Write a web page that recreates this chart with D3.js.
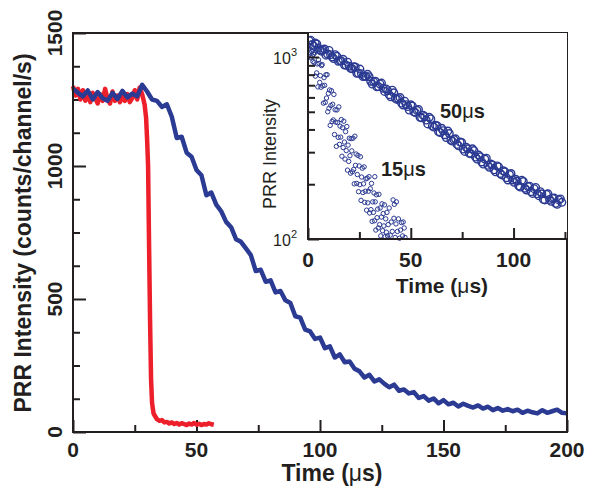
<!DOCTYPE html>
<html>
<head>
<meta charset="utf-8">
<script src="https://cdn.jsdelivr.net/npm/d3@7"></script>
<style>
  body { margin: 0; background: #fff; }
  svg { display: block; font-family: "Liberation Sans", Arial, sans-serif; }
</style>
</head>
<body>
<svg id="chart" width="592" height="489"></svg>
<script>
// main panel: time (us) and counts, blue = slow decay, red = fast decay
var blueT = d3.range(0, 201, 2);
var blueV = [1290,1275,1262,1284,1250,1278,1255,1245,1275,1252,1282,1258,1272,1262,1305,1280,1250,1245,1222,1232,
  1185,1105,1110,1050,1035,985,965,890,900,855,830,790,770,725,715,690,665,605,610,565,
  570,525,530,495,485,435,430,385,378,350,355,315,322,280,292,262,265,238,228,205,
  215,190,198,182,168,178,155,160,145,150,128,135,118,126,108,120,104,110,96,106,
  98,92,100,88,95,82,90,80,86,78,84,72,80,74,70,82,72,78,84,72,70];

var redT = [0,1,2,3,4,5,6,7,8,9,10,11,12,13,14,15,16,17,18,19,20,21,22,23,24,25,26,27,28,29,
  29.6,30,30.4,30.8,31.2,31.6,32,32.6,33.2,34,35,36,37,38,39,40,41,42,43,44,45,46,47,48,49,50,51,52,53,54,55,56,57];
var redV = [1300,1265,1290,1250,1285,1245,1270,1240,1275,1255,1235,1270,1245,1290,1250,1235,1280,1245,1265,1240,
  1260,1245,1270,1240,1255,1285,1250,1295,1270,1230,
  1180,1100,1000,700,420,200,110,70,60,48,42,45,36,38,32,36,30,34,28,33,30,26,32,28,34,27,31,26,30,28,33,29,27];

// inset: log intensity, 50 us decay (two interleaved sweeps) and 15 us decay
var slowT = [0.5,2,3.5,5,6.5,8,9.5,11,12.5,14,15.5,17,18.5,20,21.5,23,24.5,26,27.5,29,30.5,32,33.5,35,36.5,38,39.5,41,42.5,44,
  45.5,47,48.5,50,51.5,53,54.5,56,57.5,59,60.5,62,63.5,65,66.5,68,69.5,71,72.5,74,75.5,77,78.5,80,81.5,83,84.5,86,87.5,89,
  90.5,92,93.5,95,96.5,98,99.5,101,102.5,104,105.5,107,108.5,110,111.5,113,114.5,116,117.5,119,120.5,122,123.5];
var slowV = [1230,1171,1193,1120,1077,1107,1039,1030,980,1010,955,972,902,890,862,881,815,810,784,803,735,730,686,711,673,668,621,657,593,590,
  558,572,534,546,500,510,466,479,450,466,417,422,389,406,374,392,349,352,331,341,312,319,296,313,282,289,265,275,254,258,
  240,252,229,237,217,226,211,213,196,210,190,194,182,189,177,182,165,176,165,167,157,164,159];
var slowT2 = [1.25,2.75,4.25,5.75,7.25,8.75,10.25,11.75,13.25,14.75,16.25,17.75,19.25,20.75,22.25,23.75,25.25,26.75,28.25,29.75,
  31.25,32.75,34.25,35.75,37.25,38.75,40.25,41.75,43.25,44.75,46.25,47.75,49.25,50.75,52.25,53.75,55.25,56.75,58.25,59.75,
  61.25,62.75,64.25,65.75,67.25,68.75,70.25,71.75,73.25,74.75,76.25,77.75,79.25,80.75,82.25,83.75,85.25,86.75,88.25,89.75,
  91.25,92.75,94.25,95.75,97.25,98.75,100.25,101.75,103.25,104.75,106.25,107.75,109.25,110.75,112.25,113.75,115.25,116.75,118.25,119.75,
  121.25,122.75];
var slowV2 = [1237,1147,1179,1093,1092,1024,1087,1000,1030,948,950,904,937,867,884,813,858,781,782,780,
  710,736,688,719,647,653,605,636,585,599,545,547,511,538,495,515,463,471,429,457,
  412,419,385,394,361,380,345,355,325,339,303,313,294,306,275,283,258,278,248,255,
  234,249,225,234,211,229,205,208,193,207,186,195,178,192,173,177,164,177,161,168,
  155,166];

var fastT = [0.3,0.6,0.9,1.2,1.5,1.8,2.1,2.4,2.7,3.0,3.3,3.6,3.9,4.2,4.5,4.8,5.1,5.4,5.7,6.0,
  6.3,6.6,6.9,7.2,7.5,7.8,8.1,8.4,8.7,9.0,9.3,9.6,9.9,10.2,10.5,10.8,11.1,11.4,11.7,12.0,
  12.3,12.6,12.9,13.2,13.5,13.8,14.1,14.4,14.7,15.0,15.3,15.6,15.9,16.2,16.5,16.8,17.1,17.4,17.7,18.0,
  18.3,18.6,18.9,19.2,19.5,19.8,20.1,20.4,20.7,21.0,21.3,21.6,21.9,22.2,22.5,22.8,23.1,23.4,23.7,24.0,
  24.3,24.6,24.9,25.2,25.5,25.8,26.1,26.4,26.7,27.0,27.3,27.6,27.9,28.2,28.5,28.8,29.1,29.4,29.7,30.0,
  30.3,30.6,30.9,31.2,31.5,31.8,32.1,32.4,32.5,32.7,33.0,33.3,33.6,33.9,34.2,34.5,34.8,35.1,35.4,35.7,
  36.0,36.3,36.6,36.9,37.2,37.5,37.8,38.1,38.4,38.7,39.0,39.5,40.0,40.5,41.0,41.4,41.8,42.0,42.4,42.8,
  43.0,43.5,44.0,44.5,45.0,45.5,46.0,46.3,46.8,47.2];
var fastV = [1164,1067,1147,1051,989,1074,1014,946,1037,931,1055,785,1087,818,916,685,966,922,725,790,
  682,897,909,694,558,770,699,563,799,595,800,500,631,523,659,421,541,653,442,550,
  451,623,375,513,439,323,512,436,362,532,331,417,363,453,285,409,318,444,341,275,
  389,306,415,239,328,267,358,287,230,356,305,234,358,241,201,367,254,293,202,226,
  288,182,252,199,283,163,219,245,180,201,249,159,183,214,144,216,158,183,220,139,
  189,145,202,125,160,140,179,126,220,160,112,175,131,146,115,176,120,148,104,132,
  156,111,138,118,154,103,129,109,140,104,120,148,105,124,110,164,130,155,102,121,
  160,110,129,101,112,123,104,124,115,102];

var xTicksMain = [0, 50, 100, 150, 200], xMinorMain = [25, 75, 125, 175];
var yTicksMain = [0, 500, 1000, 1500], yMinorMain = [125, 250, 375, 625, 750, 875, 1125, 1250, 1375];
var xTicksIn = [0, 50, 100], xMinorIn = [25, 75, 125];
var yTicksIn = [100, 1000], yMinorIn = [200, 300, 400, 500, 600, 700, 800, 900];

var ink = "#231f20", blue = "#2b3a92", red = "#ec1f2b";
var svg = d3.select("#chart");

var x = d3.scaleLinear().domain([0, 200]).range([73, 567]);
var y = d3.scaleLinear().domain([0, 1500]).range([432, 33]);

function ticks(g, axis) {
  g.call(axis);
  g.select(".domain").remove();
  g.selectAll(".tick line").attr("stroke", ink).attr("stroke-width", 2);
  g.selectAll(".tick text").remove();
}

// main ticks (inward)
svg.append("g").attr("transform", "translate(0,432)")
  .call(ticks, d3.axisBottom(x).tickValues(xTicksMain).tickSize(-12));
svg.append("g").attr("transform", "translate(0,432)")
  .call(ticks, d3.axisBottom(x).tickValues(xMinorMain).tickSize(-7));
svg.append("g").attr("transform", "translate(73,0)")
  .call(ticks, d3.axisLeft(y).tickValues(yTicksMain).tickSize(-13));
svg.append("g").attr("transform", "translate(73,0)")
  .call(ticks, d3.axisLeft(y).tickValues(yMinorMain).tickSize(-7));

// main lines
var line = d3.line().x(function(d) { return x(d[0]); }).y(function(d) { return y(d[1]); });
svg.append("path")
  .datum(redT.map(function(t, i) { return [t, redV[i]]; }))
  .attr("d", line).attr("fill", "none").attr("stroke", red)
  .attr("stroke-width", 4.5).attr("stroke-linejoin", "round");
svg.append("path")
  .datum(blueT.map(function(t, i) { return [t, blueV[i]]; }))
  .attr("d", line).attr("fill", "none").attr("stroke", blue)
  .attr("stroke-width", 4.5).attr("stroke-linejoin", "round");

svg.append("rect").attr("x", 73).attr("y", 33).attr("width", 494).attr("height", 399)
  .attr("fill", "none").attr("stroke", ink).attr("stroke-width", 2);

// main tick labels
svg.selectAll("text.xl").data(xTicksMain).enter().append("text")
  .attr("x", function(d) { return x(d); }).attr("y", 457)
  .attr("text-anchor", "middle").attr("font-size", 21).attr("font-weight", "bold")
  .attr("fill", ink).text(function(d) { return d; });
svg.selectAll("text.yl").data(yTicksMain).enter().append("text")
  .attr("transform", function(d) { return "translate(62," + y(d) + ") rotate(-90)"; })
  .attr("text-anchor", "middle").attr("font-size", 21).attr("font-weight", "bold")
  .attr("fill", ink).text(function(d) { return d; });

var xt = svg.append("text").attr("x", 332).attr("y", 481).attr("text-anchor", "middle")
  .attr("font-size", 23).attr("font-weight", "bold").attr("fill", ink);
xt.append("tspan").text("Time (");
xt.append("tspan").attr("font-weight", "normal").text("μ");
xt.append("tspan").text("s)");
svg.append("text").attr("transform", "translate(31,233) rotate(-90)")
  .attr("text-anchor", "middle").attr("font-size", 23).attr("font-weight", "bold")
  .attr("fill", ink).text("PRR Intensity (counts/channel/s)");

// inset
var xi = d3.scaleLinear().domain([0, 126]).range([308, 567]);
var yi = d3.scaleLog().domain([100, 1355]).range([239, 33]);

svg.append("rect").attr("x", 308).attr("y", 33).attr("width", 259).attr("height", 206)
  .attr("fill", "#fff");

svg.append("clipPath").attr("id", "inclip").append("rect")
  .attr("x", 308).attr("y", 33).attr("width", 262).attr("height", 208);

var pts = svg.append("g").attr("clip-path", "url(#inclip)");
pts.selectAll("circle.fast").data(fastT).enter().append("circle")
  .attr("cx", function(d) { return xi(d); })
  .attr("cy", function(d, i) { return yi(fastV[i]); })
  .attr("r", 2.2).attr("fill", "none").attr("stroke", blue).attr("stroke-width", 1);
var slowPts = slowT.map(function(t, i) { return [t, slowV[i]]; })
  .concat(slowT2.map(function(t, i) { return [t, slowV2[i]]; }));
pts.selectAll("circle.slow").data(slowPts).enter().append("circle")
  .attr("cx", function(d) { return xi(d[0]); })
  .attr("cy", function(d) { return yi(d[1]); })
  .attr("r", 3.8).attr("fill", "none").attr("stroke", blue).attr("stroke-width", 1.4);

svg.append("g").attr("transform", "translate(0,239)")
  .call(ticks, d3.axisBottom(xi).tickValues(xTicksIn).tickSize(-11));
svg.append("g").attr("transform", "translate(0,239)")
  .call(ticks, d3.axisBottom(xi).tickValues(xMinorIn.filter(function(d) { return xi(d) < 566; })).tickSize(-7));
svg.append("g").attr("transform", "translate(308,0)")
  .call(ticks, d3.axisLeft(yi).tickValues(yTicksIn).tickSize(-11));
svg.append("g").attr("transform", "translate(308,0)")
  .call(ticks, d3.axisLeft(yi).tickValues(yMinorIn).tickSize(-7));

svg.append("path").attr("d", "M308,33V239H567")
  .attr("fill", "none").attr("stroke", ink).attr("stroke-width", 2);

svg.selectAll("text.xil").data(xTicksIn).enter().append("text")
  .attr("x", function(d) { return xi(d); }).attr("y", 267)
  .attr("text-anchor", "middle").attr("font-size", 21).attr("font-weight", "bold")
  .attr("fill", ink).text(function(d) { return d; });

svg.selectAll("text.yil").data(yTicksIn).enter().append("text")
  .attr("x", 297).attr("y", function(d) { return yi(d) + 7; })
  .attr("text-anchor", "end").attr("font-size", 16).attr("fill", ink)
  .each(function(d) {
    var t = d3.select(this);
    t.append("tspan").text("10");
    t.append("tspan").attr("dy", -8).attr("font-size", 11).text(Math.round(Math.log10(d)));
  });

var xti = svg.append("text").attr("x", 442).attr("y", 293).attr("text-anchor", "middle")
  .attr("font-size", 21).attr("font-weight", "bold").attr("fill", ink);
xti.append("tspan").text("Time (");
xti.append("tspan").attr("font-weight", "normal").text("μ");
xti.append("tspan").text("s)");

svg.append("text").attr("transform", "translate(276,154) rotate(-90)")
  .attr("text-anchor", "middle").attr("font-size", 18).attr("fill", ink)
  .text("PRR Intensity");

function note(tx, ty, label) {
  var n = svg.append("text").attr("x", tx).attr("y", ty)
    .attr("font-size", 20).attr("font-weight", "bold").attr("fill", ink);
  n.append("tspan").text(label);
  n.append("tspan").attr("font-weight", "normal").text("μ");
  n.append("tspan").text("s");
}
note(440, 118, "50");
note(381, 176, "15");
</script>
</body>
</html>
